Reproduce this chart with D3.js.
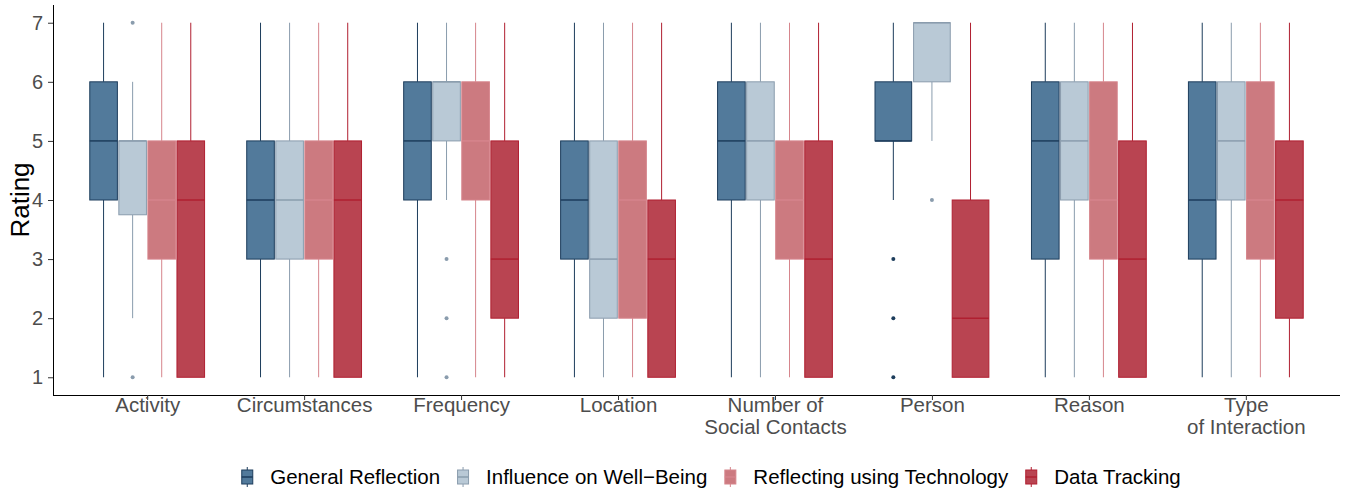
<!DOCTYPE html>
<html>
<head>
<meta charset="utf-8">
<script src="https://cdn.jsdelivr.net/npm/d3@7"></script>
<style>
  body { margin: 0; background: #fff; }
  text { font-family: "Liberation Sans", Arial, sans-serif; }
</style>
</head>
<body>
<div id="chart"></div>
<script>
// Categories on the x axis (line breaks as in the original)
var categories = ["Activity", "Circumstances", "Frequency", "Location",
  "Number of\nSocial Contacts", "Person", "Reason", "Type\nof Interaction"];
var conditions = ["General Reflection", "Influence on Well\u2212Being",
  "Reflecting using Technology", "Data Tracking"];
var yTicks = [1, 2, 3, 4, 5, 6, 7];

// [lower whisker, q1, median, q3, upper whisker, outliers] per category
var generalReflection = [
  [1, 4, 5, 6, 7, []],
  [1, 3, 4, 5, 7, []],
  [1, 4, 5, 6, 7, []],
  [1, 3, 4, 5, 7, []],
  [1, 4, 5, 6, 7, []],
  [4, 5, 5, 6, 7, [3, 2, 1]],
  [1, 3, 5, 6, 7, []],
  [1, 3, 4, 6, 7, []]
];
var influenceWellBeing = [
  [2, 3.75, 5, 5, 6, [7, 1]],
  [1, 3, 4, 5, 7, []],
  [4, 5, 6, 6, 7, [3, 2, 1]],
  [1, 2, 3, 5, 7, []],
  [1, 4, 5, 6, 7, []],
  [5, 6, 7, 7, 7, [4]],
  [1, 4, 5, 6, 7, []],
  [1, 4, 5, 6, 7, []]
];
var reflectingTechnology = [
  [1, 3, 4, 5, 7, []],
  [1, 3, 4, 5, 7, []],
  [1, 4, 5, 6, 7, []],
  [1, 2, 4, 5, 7, []],
  [1, 3, 4, 5, 7, []],
  null,
  [1, 3, 4, 6, 7, []],
  [1, 3, 4, 6, 7, []]
];
var dataTracking = [
  [1, 1, 4, 5, 7, []],
  [1, 1, 4, 5, 7, []],
  [1, 2, 3, 5, 7, []],
  [1, 1, 3, 4, 7, []],
  [1, 1, 3, 5, 7, []],
  [1, 1, 2, 4, 7, []],
  [1, 1, 3, 5, 7, []],
  [1, 2, 4, 5, 7, []]
];

var seriesStats = [generalReflection, influenceWellBeing, reflectingTechnology, dataTracking];
var fills   = ["#527a9b", "#b9c9d6", "#cc7a80", "#b94451"];
var strokes = ["#1d3d5c", "#8a9cad", "#d6858c", "#b01f30"];

var width = 1355, height = 491;
var plotLeft = 53, plotRight = 1340, plotTop = 5, plotBottom = 395;

var svg = d3.select("#chart").append("svg")
  .attr("width", width)
  .attr("height", height);

// Scales
var x = d3.scalePoint().domain(categories).range([plotLeft, plotRight]).padding(0.6);
var y = d3.scaleLinear().domain([0.7, 7.3]).range([plotBottom, plotTop]);

var step = x.step();
var dodge = 0.75 * step;

// Boxes
categories.forEach(function(cat, ci) {
  var present = [];
  seriesStats.forEach(function(s, si) { if (s[ci]) present.push(si); });
  var inner = d3.scaleBand().domain(present).range([-dodge / 2, dodge / 2]).padding(0.05);
  var g = svg.append("g").attr("transform", "translate(" + x(cat) + ",0)");

  present.forEach(function(si) {
    var d = seriesStats[si][ci];
    var bx = inner(si), bw = inner.bandwidth(), cx = bx + bw / 2;
    var box = g.append("g");

    // whiskers
    box.append("line")
      .attr("x1", cx).attr("x2", cx)
      .attr("y1", y(d[3])).attr("y2", y(d[4]))
      .attr("stroke", strokes[si]).attr("stroke-width", 1);
    box.append("line")
      .attr("x1", cx).attr("x2", cx)
      .attr("y1", y(d[1])).attr("y2", y(d[0]))
      .attr("stroke", strokes[si]).attr("stroke-width", 1);

    // box
    box.append("rect")
      .attr("x", bx).attr("width", bw)
      .attr("y", y(d[3])).attr("height", Math.max(0, y(d[1]) - y(d[3])))
      .attr("fill", fills[si])
      .attr("stroke", strokes[si]).attr("stroke-width", 1);

    // median
    box.append("line")
      .attr("x1", bx).attr("x2", bx + bw)
      .attr("y1", y(d[2])).attr("y2", y(d[2]))
      .attr("stroke", strokes[si]).attr("stroke-width", 1.5);

    // outliers
    box.selectAll("circle").data(d[5]).enter().append("circle")
      .attr("cx", cx).attr("cy", function(v) { return y(v); })
      .attr("r", 2)
      .attr("fill", strokes[si]);
  });
});

// Y axis
var yAxis = d3.axisLeft(y).tickValues(yTicks).tickFormat(d3.format("d")).tickSize(5).tickPadding(5);
var gy = svg.append("g")
  .attr("transform", "translate(" + plotLeft + ",0)")
  .call(yAxis);
gy.select(".domain").attr("d", "M0.5," + plotTop + "V" + plotBottom).attr("stroke", "#000");
gy.selectAll(".tick line").attr("stroke", "#333");
gy.selectAll(".tick text").attr("font-size", 20).attr("fill", "#4d4d4d");

// X axis
var xAxis = d3.axisBottom(x).tickSize(5).tickPadding(4);
var gx = svg.append("g")
  .attr("transform", "translate(0," + plotBottom + ")")
  .call(xAxis);
gx.select(".domain").attr("d", "M" + plotLeft + ",0.5H" + plotRight).attr("stroke", "#000");
gx.selectAll(".tick line").attr("stroke", "#333");
gx.selectAll(".tick text").each(function(t) {
  var el = d3.select(this).text(null)
    .attr("font-size", 20.5).attr("fill", "#4d4d4d").attr("dy", null).attr("y", 0);
  t.split("\n").forEach(function(line, i) {
    el.append("tspan").attr("x", 0).attr("y", 17 + i * 22).text(line);
  });
});

// Y title
svg.append("text")
  .attr("transform", "translate(29," + ((plotTop + plotBottom) / 2) + ") rotate(-90)")
  .attr("text-anchor", "middle")
  .attr("font-size", 26)
  .attr("fill", "#000")
  .text("Rating");

// Legend
var legend = svg.append("g").attr("transform", "translate(0,477)");
var items = legend.selectAll("g.item").data(conditions).enter().append("g").attr("class", "item");
items.each(function(name, i) {
  var gI = d3.select(this);
  gI.append("line").attr("x1", 6).attr("x2", 6).attr("y1", -10).attr("y2", 10)
    .attr("stroke", strokes[i]).attr("stroke-width", 1);
  gI.append("rect").attr("x", 0.5).attr("y", -7).attr("width", 11).attr("height", 14)
    .attr("fill", fills[i]).attr("stroke", strokes[i]).attr("stroke-width", 1);
  gI.append("line").attr("x1", 0.5).attr("x2", 11.5).attr("y1", 0).attr("y2", 0)
    .attr("stroke", strokes[i]).attr("stroke-width", 1.5);
  gI.append("text").attr("x", 29).attr("y", 7)
    .attr("font-size", 20.5).attr("fill", "#000").text(name);
});
var widths = [];
items.each(function() { widths.push(29 + d3.select(this).select("text").node().getComputedTextLength()); });
var gap = 17;
var total = d3.sum(widths) + gap * (widths.length - 1);
var pos = 711 - total / 2;
items.attr("transform", function(d, i) {
  var p = pos;
  pos += widths[i] + gap;
  return "translate(" + p + ",0)";
});
</script>
</body>
</html>
